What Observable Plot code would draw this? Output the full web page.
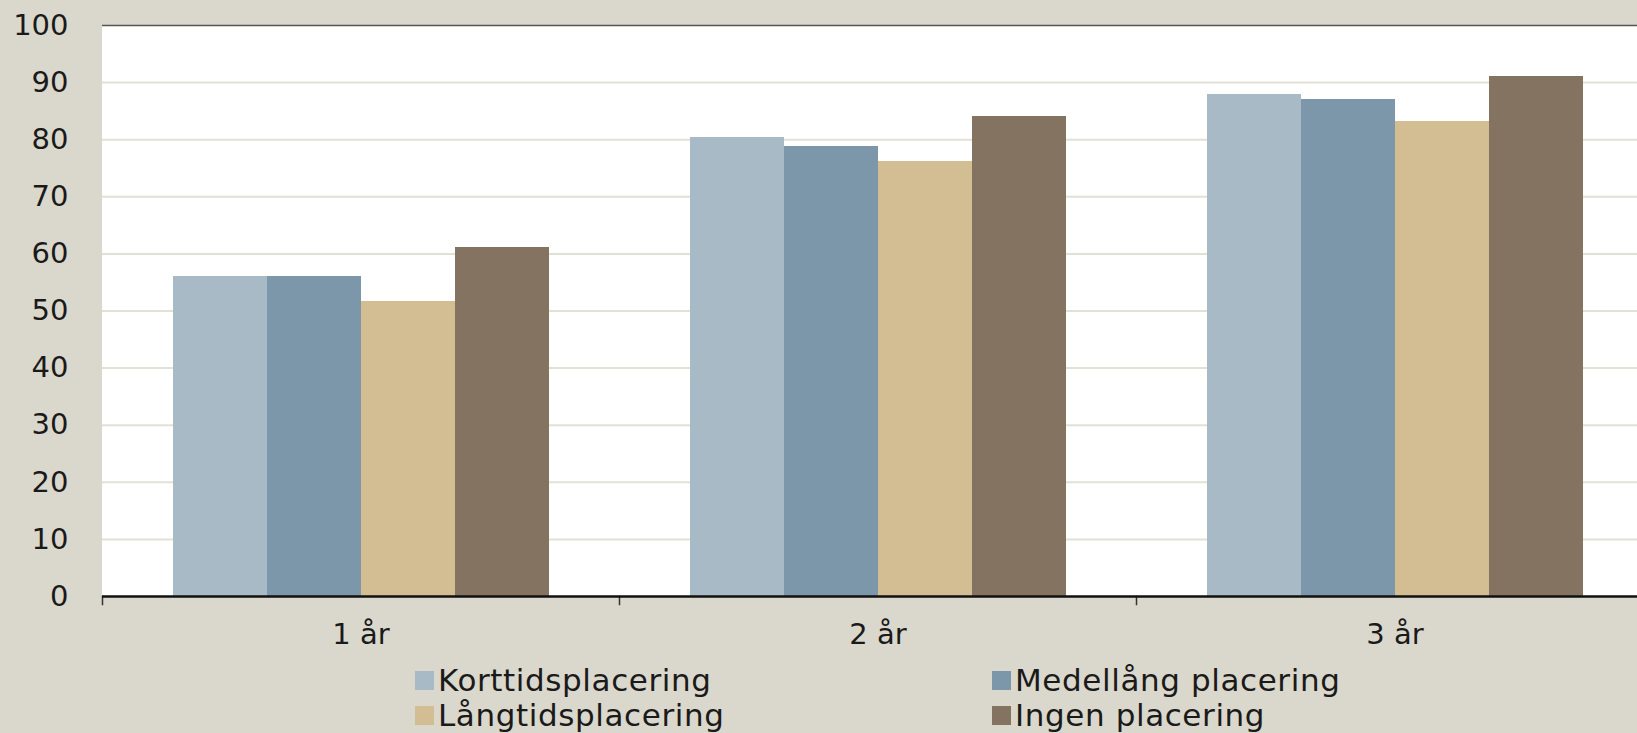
<!DOCTYPE html>
<html>
<head>
<meta charset="utf-8">
<script src="https://cdn.jsdelivr.net/npm/d3@7"></script>
<script src="https://cdn.jsdelivr.net/npm/@observablehq/plot@0.6"></script>
<style>
  html, body { margin: 0; padding: 0; background: #dad8cc; overflow: hidden; width: 1637px; height: 733px; }
  #chart { position: absolute; left: 0; top: 0; width: 1660px; }
  #chart svg { max-width: none !important; }
  #legend { position: absolute; left: 0; top: 662px; width: 1637px; font-family: "DejaVu Sans", sans-serif; font-size: 31px; color: #1a1a1a; }
  .item { position: absolute; display: flex; align-items: center; white-space: nowrap; letter-spacing: 0.6px; }
  .sw { width: 19px; height: 19px; margin-right: 4px; }
</style>
</head>
<body>
<div id="chart"></div>
<div id="legend"></div>
<script>
const groups = ["1 år", "2 år", "3 år"];
const seriesNames = ["Korttidsplacering", "Medellång placering", "Långtidsplacering", "Ingen placering"];
const korttid = [56.1, 80.4, 88.0];
const medellang = [56.1, 78.8, 87.0];
const langtid = [51.7, 76.1, 83.1];
const ingen = [61.2, 84.1, 91.1];
const colors = ["#a7bac5", "#7b97a9", "#d3bd92", "#857362"];
const yTicks = [0, 10, 20, 30, 40, 50, 60, 70, 80, 90, 100];

const seriesValues = [korttid, medellang, langtid, ingen];
const data = [];
groups.forEach((g, gi) => {
  seriesNames.forEach((s, si) => {
    data.push({group: g, series: s, value: seriesValues[si][gi]});
  });
});

const chart = Plot.plot({
  width: 1660,
  height: 660,
  marginLeft: 102,
  marginTop: 25,
  marginBottom: 64,
  marginRight: 7,
  style: {background: "transparent", fontFamily: "'DejaVu Sans', sans-serif", fontSize: "29px", color: "#1a1a1a", overflow: "visible", maxWidth: "none"},
  fx: {domain: groups, padding: 0, label: null, tickSize: 0, tickPadding: 27},
  x: {domain: seriesNames, paddingInner: 0, paddingOuter: 0.75, axis: null},
  y: {domain: [0, 100], ticks: yTicks, tickSize: 0, tickPadding: 34, label: null, line: true},
  color: {domain: seriesNames, range: colors},
  marks: [
    Plot.frame({fill: "white", stroke: "white", strokeWidth: 1, shapeRendering: "crispEdges"}),
    Plot.ruleY(yTicks.filter(t => t > 0 && t < 100), {stroke: "#e3e0d5", strokeWidth: 2}),
    Plot.ruleY([100], {stroke: "#555", strokeWidth: 1.5}),
    Plot.barY(data, {fx: "group", x: "series", y: "value", fill: "series", shapeRendering: "crispEdges"}),
    Plot.frame({anchor: "left", stroke: "#333", strokeWidth: 1.5, insetTop: 571, insetBottom: -8}),
    Plot.ruleY([0], {stroke: "#111", strokeWidth: 2.5})
  ]
});
document.getElementById("chart").appendChild(chart);

const legend = document.getElementById("legend");
const legendPos = [[415, 0], [992, 0], [415, 35], [992, 35]];
seriesNames.forEach((s, i) => {
  const d = document.createElement("div");
  d.className = "item";
  d.style.left = legendPos[i][0] + "px";
  d.style.top = legendPos[i][1] + "px";
  d.innerHTML = `<span class="sw" style="background:${colors[i]}"></span><span>${s}</span>`;
  legend.appendChild(d);
});
</script>
</body>
</html>
